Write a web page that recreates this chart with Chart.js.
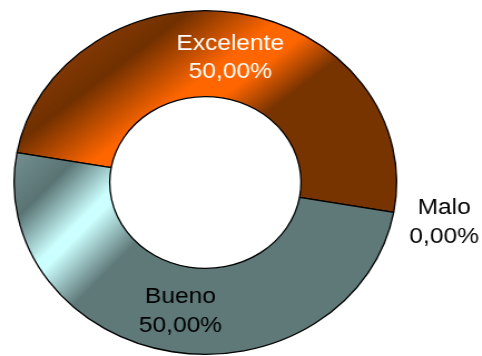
<!DOCTYPE html>
<html>
<head>
<meta charset="utf-8">
<script src="https://cdn.jsdelivr.net/npm/chart.js@4.4.0/dist/chart.umd.min.js"></script>
<style>
  html, body { margin: 0; padding: 0; background: #ffffff; }
  /* the original picture is a round doughnut stretched sideways */
  #wrap { position: absolute; left: 0; top: 0; width: 433px; height: 356px;
          transform: scaleX(1.113); transform-origin: 0 0; }
</style>
</head>
<body>
<div id="wrap"><canvas id="donut"></canvas></div>
<script>
var categories = ['Excelente', 'Malo', 'Bueno'];
var percents = [50, 0, 50];

var SCALE_X = 1.113;

// gradient bands given in screen pixels (p = nx*x + ny*y)
var bands = [
  { nx: 0.607, ny: 0.794, stops: [[70, '#8a3c06'], [124, '#713000'], [185, '#ff6600'], [212, '#ff6600'], [252, '#773300'], [420, '#773300']] },
  { nx: 0.707, ny: 0.707, stops: [[0, '#336666'], [500, '#336666']] },
  { nx: 0.707, ny: 0.707, stops: [[110, '#789494'], [166, '#5a7474'], [212, '#ccffff'], [222, '#ccffff'], [268, '#5f7878'], [520, '#5f7878']] }
];
var textColors = ['#ffffff', '#000000', '#000000'];

function bandGradient(ctx, band) {
  var ax = band.nx * SCALE_X, ay = band.ny;
  var a2 = ax * ax + ay * ay;
  var pA = band.stops[0][0], pB = band.stops[band.stops.length - 1][0];
  var g = ctx.createLinearGradient(ax * pA / a2, ay * pA / a2, ax * pB / a2, ay * pB / a2);
  band.stops.forEach(function(s) {
    g.addColorStop((s[0] - pA) / (pB - pA), s[1]);
  });
  return g;
}

function fmt(v) {
  return v.toFixed(2).replace('.', ',') + '%';
}

var labelPlugin = {
  id: 'sliceLabels',
  afterDatasetsDraw: function(chart) {
    var ctx = chart.ctx;
    var meta = chart.getDatasetMeta(0);
    ctx.save();
    ctx.font = '22px "Liberation Sans", Arial, sans-serif';
    ctx.textAlign = 'center';
    ctx.textBaseline = 'alphabetic';
    meta.data.forEach(function(arc, i) {
      var x, y;
      if (percents[i] > 0) {
        var pos = arc.tooltipPosition();
        x = pos.x; y = pos.y;
      } else {
        var mid = (arc.startAngle + arc.endAngle) / 2;
        var r = arc.outerRadius + 46;
        x = arc.x + Math.cos(mid) * r;
        y = arc.y + Math.sin(mid) * r;
      }
      ctx.fillStyle = textColors[i];
      ctx.fillText(categories[i], x, y - 6);
      ctx.fillText(fmt(percents[i]), x, y + 22.5);
    });
    ctx.restore();
  }
};

var ctx = document.getElementById('donut').getContext('2d');
var chartObj = new Chart(ctx, {
  type: 'doughnut',
  data: {
    labels: categories,
    datasets: [{
      data: percents,
      backgroundColor: function(c) {
        return bandGradient(c.chart.ctx, bands[c.dataIndex]);
      },
      borderColor: '#000000',
      borderWidth: 1.3,
      hoverOffset: 0
    }]
  },
  options: {
    responsive: true,
    maintainAspectRatio: false,
    animation: false,
    events: [],
    rotation: 280,
    cutout: '50%',
    layout: { padding: { left: 12, right: 76, top: 10, bottom: 1 } },
    plugins: {
      legend: { display: false },
      tooltip: { enabled: false }
    }
  },
  plugins: [labelPlugin]
});
</script>
</body>
</html>
